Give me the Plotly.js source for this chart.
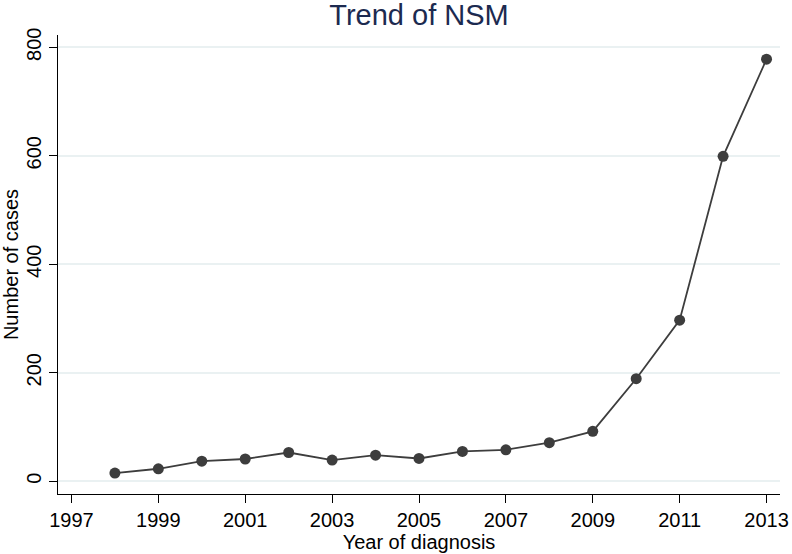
<!DOCTYPE html>
<html>
<head>
<meta charset="utf-8">
<script src="https://cdn.plot.ly/plotly-3.0.1.min.js"></script>
<style>html,body{margin:0;padding:0;background:#fff;}#chart{width:792px;height:554px;}</style>
</head>
<body>
<div id="chart"></div>
<script>
const years = [1998, 1999, 2000, 2001, 2002, 2003, 2004, 2005, 2006, 2007, 2008, 2009, 2010, 2011, 2012, 2013];
const cases = [15, 23, 37, 41, 53, 39, 48, 42, 55, 58, 71, 92, 189, 297, 599, 778];
const xTicks = [1997, 1999, 2001, 2003, 2005, 2007, 2009, 2011, 2013];
const yTicks = [0, 200, 400, 600, 800];

const FONT = 'Liberation Sans, Arial, Helvetica, sans-serif';

const trace = {
  x: years, y: cases,
  type: 'scatter', mode: 'lines+markers',
  line: {color: '#3d3d3d', width: 1.8},
  marker: {color: '#3d3d3d', size: 11},
  hoverinfo: 'x+y'
};

const layout = {
  width: 792, height: 554,
  paper_bgcolor: '#ffffff', plot_bgcolor: '#ffffff',
  margin: {l: 58, r: 12, t: 35, b: 60, pad: 0},
  showlegend: false,
  font: {family: FONT, size: 20, color: '#000000'},
  title: {
    text: 'Trend of NSM',
    font: {family: FONT, size: 29, color: '#1c2a50'},
    x: 0.5, xref: 'paper', xanchor: 'center',
    y: 1 - 15/554, yref: 'container', yanchor: 'middle'
  },
  xaxis: {
    range: [1996.69, 2013.31],
    tickvals: xTicks, ticktext: xTicks.map(String),
    ticks: 'outside', ticklen: 8, tickwidth: 1, tickcolor: '#000',
    showline: true, linecolor: '#000', linewidth: 1,
    showgrid: false, zeroline: false,
    tickfont: {family: FONT, size: 20, color: '#000'},
    title: {text: 'Year of diagnosis', font: {family: FONT, size: 20, color: '#000'}, standoff: 0},
    automargin: false
  },
  yaxis: {
    range: [-23.5, 822.6],
    tickvals: yTicks, ticktext: yTicks.map(String),
    tickangle: -90,
    ticks: 'outside', ticklen: 8, tickwidth: 1, tickcolor: '#000',
    showline: true, linecolor: '#000', linewidth: 1,
    showgrid: true, gridcolor: '#eaf1f2', gridwidth: 1.5,
    zeroline: false,
    tickfont: {family: FONT, size: 20, color: '#000'},
    title: {text: 'Number of cases', font: {family: FONT, size: 20, color: '#000'}, standoff: 0},
    automargin: false
  }
};

Plotly.newPlot('chart', [trace], layout, {displayModeBar: false, staticPlot: false});
</script>
</body>
</html>
